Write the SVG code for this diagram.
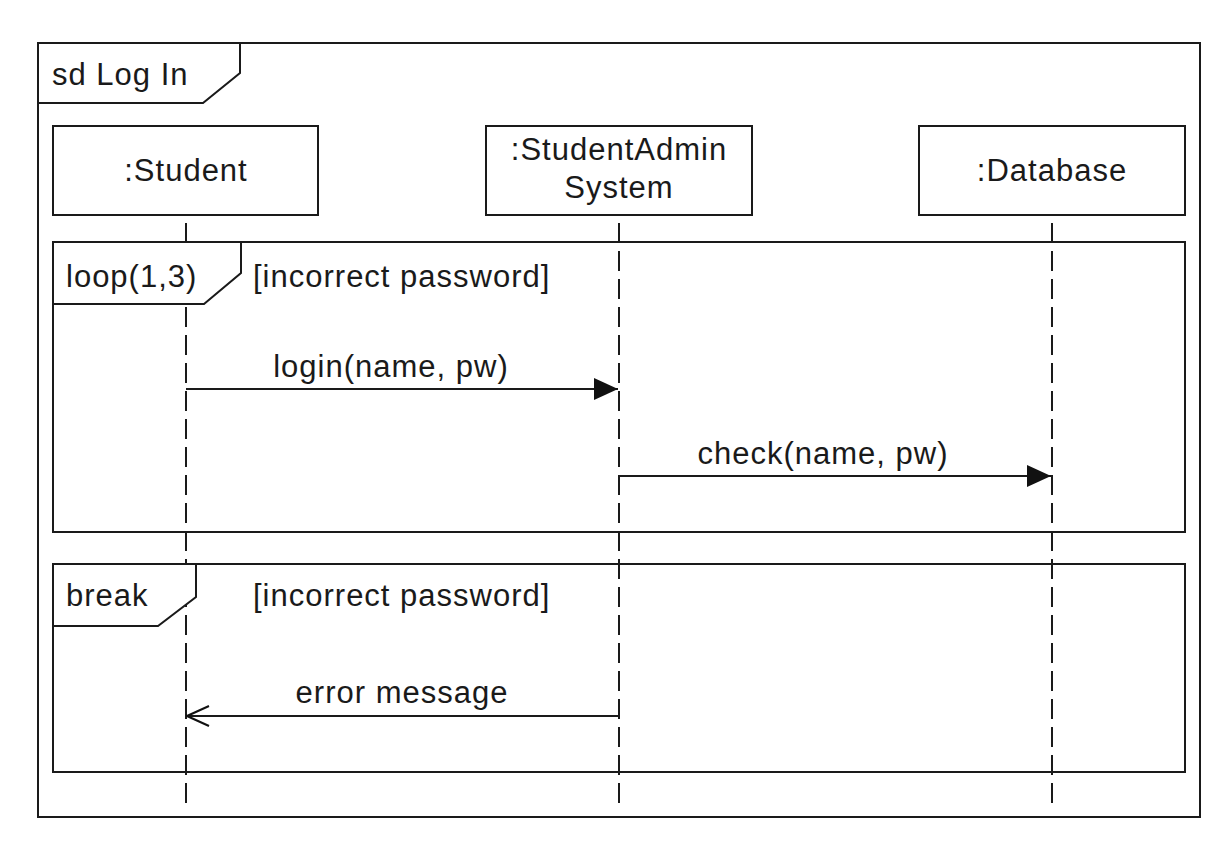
<svg xmlns="http://www.w3.org/2000/svg" width="1232" height="847" viewBox="0 0 1232 847">
<style>
.frame{fill:none;stroke:#1a1a1a;stroke-width:2}
.tab{fill:#fff;stroke:#1a1a1a;stroke-width:2}
.box{fill:#fff;stroke:#1a1a1a;stroke-width:2}
.life{stroke:#1a1a1a;stroke-width:2;stroke-dasharray:20 8;stroke-dashoffset:20;fill:none}
.msg{stroke:#1a1a1a;stroke-width:2;fill:none}
text{font-family:"Liberation Sans",Arial,sans-serif;font-size:31px;fill:#1a1a1a;letter-spacing:1px}
.c{text-anchor:middle}
</style>
<defs>
<marker id="filled" viewBox="0 0 24 22" refX="24" refY="11" markerWidth="24" markerHeight="22" markerUnits="userSpaceOnUse" orient="auto">
<path d="M0,0 L24,11 L0,22 Z" fill="#111"/>
</marker>
<marker id="open" viewBox="0 0 24 22" refX="23" refY="11" markerWidth="24" markerHeight="22" markerUnits="userSpaceOnUse" orient="auto">
<path d="M1,1 L23,11 L1,21" fill="none" stroke="#111" stroke-width="2"/>
</marker>
</defs>
<rect width="1232" height="847" fill="#fff"/>
<g id="frame-sd">
<rect class="frame" x="38" y="43" width="1162" height="774"/>
<path class="tab" d="M38,43 L240,43 L240,73 L203,103 L38,103 Z"/>
<text x="52" y="85">sd Log In</text>
</g>
<g id="lifelines">
<line class="life" x1="186" y1="215" x2="186" y2="803"/>
<line class="life" x1="619" y1="215" x2="619" y2="803"/>
<line class="life" x1="1052" y1="215" x2="1052" y2="803"/>
</g>
<g id="student">
<rect class="box" x="53" y="126" width="265" height="89"/>
<text class="c" x="186" y="181">:Student</text>
</g>
<g id="admin">
<rect class="box" x="486" y="126" width="266" height="89"/>
<text class="c" x="619" y="160">:StudentAdmin</text>
<text class="c" x="619" y="198">System</text>
</g>
<g id="database">
<rect class="box" x="919" y="126" width="266" height="89"/>
<text class="c" x="1052" y="181">:Database</text>
</g>
<g id="loop">
<rect class="frame" x="53" y="242" width="1132" height="290"/>
<path class="tab" d="M53,242 L241,242 L241,273 L204,304 L53,304 Z"/>
<text x="66" y="287">loop(1,3)</text>
<text x="253" y="287">[incorrect password]</text>
</g>
<g id="break">
<rect class="frame" x="53" y="564" width="1132" height="208"/>
<path class="tab" d="M53,564 L196,564 L196,597 L158,626 L53,626 Z"/>
<text x="66" y="606">break</text>
<text x="253" y="606">[incorrect password]</text>
</g>
<g id="connectors">
<line class="msg" x1="186" y1="389" x2="618" y2="389" marker-end="url(#filled)"/>
<text class="c" x="391" y="377">login(name, pw)</text>
<line class="msg" x1="619" y1="476" x2="1051" y2="476" marker-end="url(#filled)"/>
<text class="c" x="823" y="464">check(name, pw)</text>
<line class="msg" x1="619" y1="716" x2="187" y2="716" marker-end="url(#open)"/>
<text class="c" x="402" y="703">error message</text>
</g>
</svg>
